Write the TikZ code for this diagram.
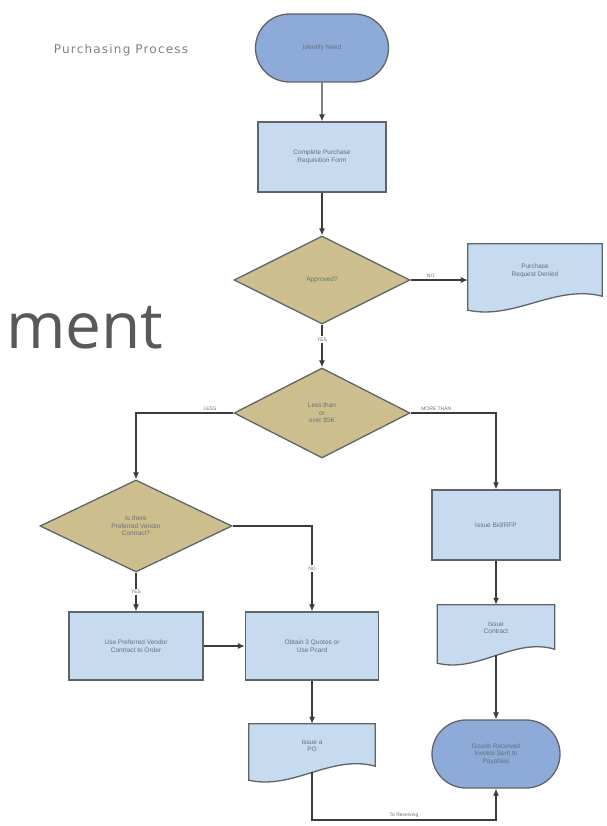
\documentclass[tikz,border=0pt]{standalone}
\usepackage{fontspec}
\setmainfont{Liberation Sans}
\newfontfamily\bigfont{Open Sans}
\newfontfamily\titlefont[LetterSpace=10]{DejaVu Sans}
\usetikzlibrary{shapes.geometric,shapes.misc,arrows.meta,calc,backgrounds}
\definecolor{termfill}{HTML}{8DAAD8}
\definecolor{boxfill}{HTML}{C6DAF0}
\definecolor{decfill}{HTML}{CDBE8E}
\definecolor{edgecol}{HTML}{5F6468}
\definecolor{linecol}{HTML}{3C3C3C}
\definecolor{txtcol}{HTML}{66707C}
\definecolor{bigtxt}{HTML}{595959}
\tikzset{
  base/.style={draw=edgecol, line width=1.3pt, inner sep=1pt, align=center,
    text=txtcol, font=\fontsize{6.5}{7.5}\selectfont},
  term/.style={base, rounded rectangle, fill=termfill},
  procbox/.style={base, rectangle, fill=boxfill},
  dec/.style={base, diamond, fill=decfill, inner sep=0pt},
  docnode/.style={rectangle, inner sep=1pt, align=center, text=txtcol,
    font=\fontsize{6.5}{7.5}\selectfont},
  docline/.style={draw=edgecol, line width=1.3pt, fill=boxfill},
  arr/.style={draw=linecol, line width=1.2pt, -{Latex[length=7pt,width=6pt]}},
  lbl/.style={text=txtcol, font=\fontsize{5}{6}\selectfont, inner sep=1.5pt},
}
\newcommand\docoutline[1]{%
  \path[docline] (#1.south west) -- (#1.north west) -- (#1.north east)
    -- ([yshift=14pt]#1.south east)
    .. controls ($(#1.south east)!0.35!(#1.south west)+(0pt,26pt)$)
    and ($(#1.south east)!0.65!(#1.south west)+(0pt,-10pt)$) .. (#1.south west)
    -- cycle;}
\begin{document}
\begin{tikzpicture}[x=1pt,y=-1pt]
\useasboundingbox (0,0) rectangle (606,826);

\node[text=bigtxt, font=\bigfont\fontsize{64}{70}\selectfont, anchor=base west, inner sep=0pt] (ment) at (6,348) {ment};
\node[text=gray, font=\titlefont\fontsize{12}{14}\selectfont] (title) at (121,50) {Purchasing Process};

\node[term, minimum width=135pt, minimum height=68pt] (start) at (322,48) {Identify Need};
\node[procbox, minimum width=128pt, minimum height=70pt] (req) at (322,157) {Complete Purchase\\Requisition Form};
\node[dec, minimum width=176pt, minimum height=88pt] (appr) at (322,280) {Approved?};
\node[docnode, minimum width=134pt, minimum height=66pt, text depth=14pt] (denied) at (535,277) {Purchase\\Request Denied};
\node[dec, minimum width=176pt, minimum height=90pt] (amt) at (322,413) {Less than\\or\\over \$5K};
\node[dec, minimum width=192pt, minimum height=92pt] (pref) at (136,526) {Is there\\Preferred Vendor\\Contract?};
\node[procbox, minimum width=134pt, minimum height=68pt] (usepref) at (136,646) {Use Preferred Vendor\\Contract to Order};
\node[procbox, minimum width=133pt, minimum height=68pt] (quotes) at (312,646) {Obtain 3 Quotes or\\Use Pcard};
\node[procbox, minimum width=128pt, minimum height=70pt] (rfp) at (496,525) {Issue Bid/RFP};
\node[docnode, minimum width=117pt, minimum height=58pt, text depth=12pt] (award) at (496,634) {Issue\\Contract};
\node[docnode, minimum width=126pt, minimum height=56pt, text depth=12pt] (po) at (312,752) {Issue a\\PO};
\node[term, minimum width=130pt, minimum height=68pt] (end) at (496,754) {Goods Received\\Invoice Sent to\\Payables};

\begin{scope}[on background layer]
  \docoutline{denied}
  \docoutline{award}
  \docoutline{po}
\end{scope}

\draw[arr] (start) -- (req);
\draw[arr] (req) -- (appr);
\draw[arr] (appr.east) -- node[lbl, above, pos=0.35]{NO} (appr.east -| denied.west);
\draw[arr] (appr.south) -- node[lbl, fill=white, pos=0.35]{YES} (amt.north);
\draw[arr] (amt.west) -| node[lbl, above, pos=0.12]{LESS} (pref.north);
\draw[arr] (amt.east) -| node[lbl, above, pos=0.15]{MORE THAN} (rfp.north);
\draw[arr] (pref.east) -| node[lbl, fill=white, pos=0.75]{NO} (quotes.north);
\draw[arr] (pref.south) -- node[lbl, fill=white]{YES} (usepref.north);
\draw[arr] (usepref) -- (quotes);
\draw[arr] (quotes) -- (po.north);
\draw[arr] (rfp) -- (award);
\draw[arr] ([yshift=8pt]award.south) -- (end.north);
\draw[arr] ([yshift=8pt]po.south) -- (po.south |- 0,820) -- node[lbl, above]{To Receiving} (end.south |- 0,820) -- (end.south);
\end{tikzpicture}
\end{document}
